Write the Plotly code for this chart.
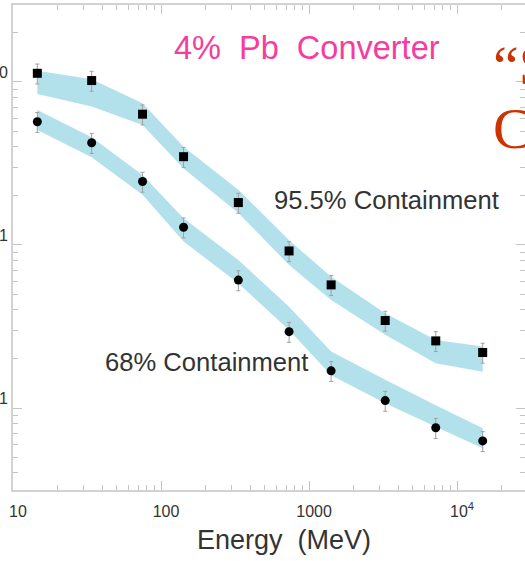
import plotly.graph_objects as go

# ---- data ----
energy = [14.6, 34, 75, 142, 333, 733, 1410, 3270, 7180, 14900]          # MeV
c95_meas = [11.3, 10.2, 6.34, 3.48, 1.82, 0.919, 0.569, 0.344, 0.258, 0.219]
c68_meas = [5.70, 4.24, 2.45, 1.285, 0.609, 0.294, 0.169, 0.111, 0.0757, 0.0628]
c95_band_hi = [11.7, 10.4, 7.40, 4.01, 2.18, 1.07, 0.639, 0.381, 0.261, 0.238]
c95_band_lo = [8.44, 7.06, 5.45, 2.95, 1.57, 0.754, 0.460, 0.281, 0.188, 0.167]
c68_band_hi = [6.73, 4.58, 2.69, 1.46, 0.809, 0.418, 0.222, 0.149, 0.104, 0.0751]
c68_band_lo = [5.08, 3.45, 2.03, 1.05, 0.582, 0.301, 0.159, 0.107, 0.0768, 0.0566]
err_pct = 14

x_ticks = [10, 100, 1000, 10000]
x_ticktext = ["10", "100", "1000", "10<sup>4</sup>"]
y_ticks = [0.1, 1, 10]
y_ticktext = ["0.1", "1", "10"]

band_color = "#b2e1ec"
axis_gray = "#d2d2d2"
tick_gray = "#c4c4c4"

fig = go.Figure()

for lo, hi in [(c95_band_lo, c95_band_hi), (c68_band_lo, c68_band_hi)]:
    fig.add_trace(go.Scatter(x=energy, y=lo, mode="lines", line=dict(width=0, color=band_color),
                             showlegend=False, hoverinfo="skip"))
    fig.add_trace(go.Scatter(x=energy, y=hi, mode="lines", line=dict(width=0, color=band_color),
                             fill="tonexty", fillcolor=band_color, showlegend=False, hoverinfo="skip"))

fig.add_trace(go.Scatter(x=energy, y=c95_meas, mode="markers", name="95.5% Containment",
                         marker=dict(symbol="square", size=9, color="black"),
                         error_y=dict(type="percent", value=err_pct, color="#a0a0a0", thickness=1, width=2),
                         showlegend=False))
fig.add_trace(go.Scatter(x=energy, y=c68_meas, mode="markers", name="68% Containment",
                         marker=dict(symbol="circle", size=9, color="black"),
                         error_y=dict(type="percent", value=err_pct, color="#a0a0a0", thickness=1, width=2),
                         showlegend=False))

minor_x = [m * 10 ** d for d in range(1, 5) for m in range(2, 10)]
minor_y = [m * 10.0 ** d for d in range(-2, 2) for m in range(2, 10)]

fig.update_xaxes(type="log", range=[1, 4.459], showgrid=False, zeroline=False, automargin=False,
                 showline=True, linecolor=axis_gray, linewidth=2, mirror="ticks",
                 ticks="inside", ticklen=9, tickwidth=1, tickcolor=tick_gray,
                 tickvals=x_ticks, ticktext=x_ticktext, ticklabelshift=5, ticklabelstandoff=6,
                 tickfont=dict(family="Liberation Sans", size=16, color="#333333"),
                 minor=dict(ticks="inside", ticklen=5, tickwidth=1, tickcolor=tick_gray,
                            tickvals=minor_x, showgrid=False))
fig.update_yaxes(type="log", range=[-1.503, 1.472], showgrid=False, zeroline=False, automargin=False,
                 showline=True, linecolor=axis_gray, linewidth=2, mirror="ticks",
                 ticks="inside", ticklen=9, tickwidth=1, tickcolor=tick_gray,
                 tickvals=y_ticks, ticktext=y_ticktext, ticklabelshift=-10, ticklabelstandoff=0,
                 tickfont=dict(family="Liberation Sans", size=16, color="#333333"),
                 minor=dict(ticks="inside", ticklen=5, tickwidth=1, tickcolor=tick_gray,
                            tickvals=minor_y, showgrid=False))

ann = []
ann.append(dict(text="4%  Pb  Converter", x=0.3105, y=0.911, xref="paper", yref="paper",
                xanchor="left", yanchor="middle", showarrow=False,
                font=dict(family="Liberation Sans", size=32.5, color="#f53c9f")))
ann.append(dict(text="95.5% Containment", x=0.506, y=0.597, xref="paper", yref="paper",
                xanchor="left", yanchor="middle", showarrow=False,
                font=dict(family="Liberation Sans", size=25.6, color="#333333")))
ann.append(dict(text="68% Containment", x=0.1758, y=0.2645, xref="paper", yref="paper",
                xanchor="left", yanchor="middle", showarrow=False,
                font=dict(family="Liberation Sans", size=25.6, color="#333333")))
ann.append(dict(text="Energy  (MeV)", x=0.530, y=-0.103, xref="paper", yref="paper",
                xanchor="center", yanchor="middle", showarrow=False,
                font=dict(family="Liberation Sans", size=27, color="#333333")))
ann.append(dict(text="\u201cS", x=0.934, y=0.876, xref="paper", yref="paper",
                xanchor="left", yanchor="middle", showarrow=False,
                font=dict(family="Liberation Serif", size=58, color="#cc3300")))
ann.append(dict(text="C", x=0.934, y=0.745, xref="paper", yref="paper",
                xanchor="left", yanchor="middle", showarrow=False,
                font=dict(family="Liberation Serif", size=58, color="#cc3300")))

fig.update_layout(width=525, height=561, margin=dict(l=13, r=0, t=5, b=71, autoexpand=False),
                  paper_bgcolor="white", plot_bgcolor="white", annotations=ann,
                  showlegend=False)

fig.write_html("out.html", config={"displayModeBar": False},
               post_script="document.body.style.margin='0px';")
